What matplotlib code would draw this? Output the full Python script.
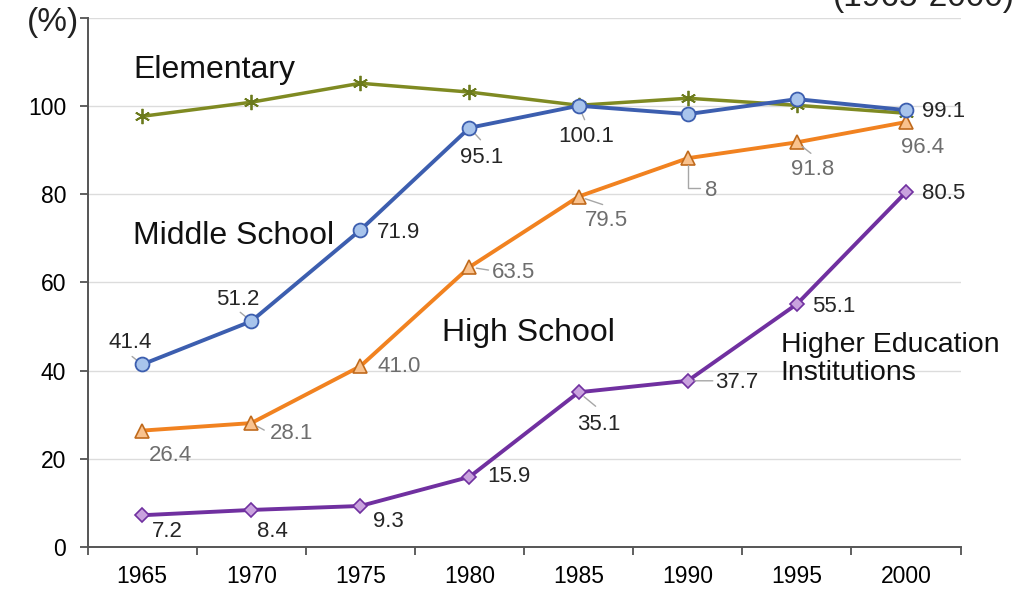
import matplotlib.pyplot as plt

plt.rcParams['font.family'] = ['Liberation Sans', 'DejaVu Sans']

years = ["1965", "1970", "1975", "1980", "1985", "1990", "1995", "2000"]
elementary = [97.7, 100.9, 105.2, 103.2, 100.2, 101.8, 100.2, 98.4]
middle = [41.4, 51.2, 71.9, 95.1, 100.1, 98.2, 101.6, 99.1]
high = [26.4, 28.1, 41.0, 63.5, 79.5, 88.2, 91.8, 96.4]
higher = [7.2, 8.4, 9.3, 15.9, 35.1, 37.7, 55.1, 80.5]

middle_labels = ["41.4", "51.2", "71.9", "95.1", "100.1", None, None, "99.1"]
high_labels = ["26.4", "28.1", "41.0", "63.5", "79.5", "8", "91.8", "96.4"]
higher_labels = ["7.2", "8.4", "9.3", "15.9", "35.1", "37.7", "55.1", "80.5"]

fig = plt.figure(figsize=(10.30, 5.91), dpi=100)
ax = fig.add_axes([0.085, 0.0745, 0.8476, 0.895])
x = range(len(years))

ax.plot(x, elementary, color="#7f8a22", lw=2.5, marker=(6, 2, 0), ms=11,
        mec="#6b7a1c", mew=1.3, zorder=3)
ax.plot(x, middle, color="#3c5eaf", lw=2.8, marker="o", ms=10,
        mfc="#a8c4ec", mec="#3c5eaf", mew=1.3, zorder=4)
ax.plot(x, high, color="#f18220", lw=2.8, marker="^", ms=10,
        mfc="#f9c28e", mec="#c06a1c", mew=1.2, zorder=3)
ax.plot(x, higher, color="#7030a0", lw=2.8, marker="D", ms=7.5,
        mfc="#c9a2de", mec="#7030a0", mew=1.2, zorder=3)

ax.set_xlim(-0.5, 7.5)
ax.set_ylim(0, 120)
ax.set_yticks([0, 20, 40, 60, 80, 100, 120])
ax.set_yticklabels(["0", "20", "40", "60", "80", "100", ""])
ax.set_xticks(list(x))
ax.set_xticklabels(years)
ax.set_xticks([i - 0.5 for i in range(len(years) + 1)], minor=True)
ax.tick_params(axis="x", which="major", length=0, labelsize=16.5, pad=13)
ax.tick_params(axis="x", which="minor", length=6, width=1.2, color="#444444")
ax.tick_params(axis="y", length=6, width=1.2, color="#444444", labelsize=16.5, pad=9.5)
ax.grid(axis="y", color="#dcdcdc", lw=1)
ax.set_axisbelow(True)
for s in ["top", "right"]:
    ax.spines[s].set_visible(False)
for s in ["left", "bottom"]:
    ax.spines[s].set_color("#555555")
    ax.spines[s].set_linewidth(1.4)


def put(vals, labels, offsets, color):
    for i, (v, t, off) in enumerate(zip(vals, labels, offsets)):
        if t is None:
            continue
        ax.annotate(t, (i, v), xytext=off, textcoords="offset pixels",
                    ha="center", va="center", fontsize=16, color=color, zorder=5)


def leaders(vals, ends, style="arc3"):
    for i, end in ends.items():
        ax.annotate("", (i, vals[i]), xytext=end, textcoords="offset pixels",
                    arrowprops=dict(arrowstyle="-", color="#a6a6a6", lw=1,
                                    shrinkA=0, shrinkB=5, connectionstyle=style))


put(middle, middle_labels,
    [(-12, 22), (-13, 22), (38, -2), (12, -30), (8, -31), None, None, (38, -1)],
    "#262626")
put(high, high_labels,
    [(28, -25), (40, -10), (39, 0), (44, -5), (28, -24), (23, -32), (16, -27), (17, -25)],
    "#6e6e6e")
put(higher, higher_labels,
    [(25, -16), (21, -22), (28, -16), (39, 0), (20, -32), (49, -2), (37, -2), (38, -1)],
    "#262626")

leaders(middle, {0: (-10, 8), 1: (-11, 9), 3: (11, -12), 4: (6, -14)})
leaders(high, {1: (13, -7), 3: (19, -3), 4: (24, -8), 6: (14, -11)})
leaders(higher, {4: (17, -14), 5: (25, 0)})
leaders(high, {5: (12, -30)}, style="angle,angleA=0,angleB=90,rad=0")

ax.text(-0.083, 108.2, "Elementary", fontsize=23, color="#111111", va="center")
ax.text(-0.083, 70.5, "Middle School", fontsize=23, color="#111111", va="center")
ax.text(2.75, 48.5, "High School", fontsize=23, color="#111111", va="center")
ax.text(5.85, 42.6, "Higher Education\nInstitutions", fontsize=20.5, color="#111111",
        va="center", linespacing=1.12)

fig.text(53 / 1030, 1 - 22 / 591, "(%)", fontsize=24, ha="center", va="center",
         color="#222222")
fig.text(1015 / 1030, 1 - 13 / 591, "(1965-2000)", fontsize=24, ha="right", va="bottom",
         color="#222222")

fig.savefig("out.png", dpi=100, facecolor="white")
